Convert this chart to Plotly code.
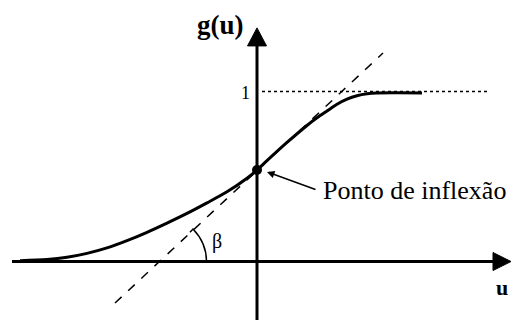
import plotly.graph_objects as go

# sigmoid curve g(u)
u_curve = [-2.37, -2.1, -1.9, -1.7, -1.5, -1.3, -1.1, -0.9, -0.7, -0.5, -0.3, -0.1, 0.0,
           0.1, 0.3, 0.5, 0.6, 0.7, 0.8, 0.9, 1.0, 1.1, 1.2, 1.4, 1.65]
g_curve = [0.005, 0.012, 0.025, 0.048, 0.080, 0.123, 0.172, 0.226, 0.283, 0.345, 0.410, 0.490, 0.538,
           0.593, 0.700, 0.800, 0.845, 0.885, 0.925, 0.955, 0.975, 0.986, 0.991, 0.992, 0.991]

# tangent line at inflection point
u_tangent = [-1.42, 1.26]
g_tangent = [-0.244, 1.226]

# asymptote g = 1
u_asym = [0.05, 2.30]
g_asym = [1.0, 1.0]

# inflection point
u_infl = [0.0]
g_infl = [0.538]

FONT = "Liberation Serif"

fig = go.Figure()
fig.add_trace(go.Scatter(x=u_asym, y=g_asym, mode="lines",
                         line=dict(color="black", width=1.5, dash="dot"), hoverinfo="skip"))
fig.add_trace(go.Scatter(x=u_tangent, y=g_tangent, mode="lines",
                         line=dict(color="black", width=1.5, dash="dash"), hoverinfo="skip"))
fig.add_trace(go.Scatter(x=u_curve, y=g_curve, mode="lines",
                         line=dict(color="black", width=3, shape="spline", smoothing=0.8),
                         hoverinfo="skip"))
fig.add_trace(go.Scatter(x=u_infl, y=g_infl, mode="markers",
                         marker=dict(color="black", size=10), hoverinfo="skip"))

shapes = [
    # vertical axis
    dict(type="line", x0=0, x1=0, y0=-0.344, y1=1.27, line=dict(color="black", width=3)),
    dict(type="path", path="M -0.095 1.268 L 0.095 1.268 L 0 1.374 Z",
         fillcolor="black", line=dict(color="black", width=1)),
    # horizontal axis
    dict(type="line", x0=-2.45, x1=2.37, y0=0, y1=0, line=dict(color="black", width=3)),
    dict(type="path", path="M 2.36 0.053 L 2.36 -0.053 L 2.54 0 Z",
         fillcolor="black", line=dict(color="black", width=1)),
    # beta arc with small hook at its end
    dict(type="path", path="M -0.505 0 Q -0.505 0.109 -0.64 0.191 L -0.67 0.172",
         line=dict(color="black", width=1.5)),
]
for s in shapes:
    s.update(xref="x", yref="y", layer="above")
fig.update_layout(shapes=shapes)

annotations = [
    dict(x=-0.37, y=1.391, text="<b>g(u)</b>", font=dict(size=27)),
    dict(x=-0.12, y=0.99, text="1", font=dict(size=18)),
    dict(x=2.45, y=-0.15, text="<b>u</b>", font=dict(size=22)),
    dict(x=-0.40, y=0.115, text="β", font=dict(size=20)),
    dict(x=0.64, y=0.42, text="Ponto de inflexão", xanchor="left", font=dict(size=26)),
    dict(x=0.10, y=0.527, ax=0.60, ay=0.42, axref="x", ayref="y", text="",
         showarrow=True, arrowhead=2, arrowsize=1, arrowwidth=1.5, arrowcolor="black"),
]
for a in annotations:
    a.setdefault("showarrow", False)
    a.update(xref="x", yref="y")
    a.setdefault("font", {})
    a["font"].update(family=FONT, color="black")
fig.update_layout(annotations=annotations)

fig.update_layout(
    width=511, height=320,
    margin=dict(l=0, r=0, t=0, b=0),
    paper_bgcolor="white", plot_bgcolor="white",
    showlegend=False,
    xaxis=dict(range=[-2.57, 2.54], visible=False, fixedrange=True),
    yaxis=dict(range=[-0.344, 1.538], visible=False, fixedrange=True),
)

fig.write_html("out.html", config={"displayModeBar": False},
               post_script="document.body.style.margin='0';document.body.style.overflow='hidden';")
